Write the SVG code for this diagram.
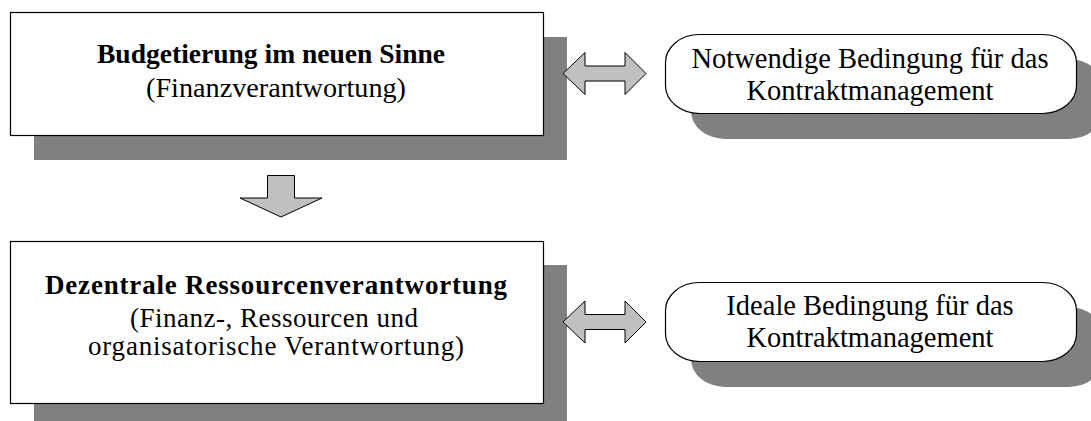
<svg xmlns="http://www.w3.org/2000/svg" width="1091" height="421" viewBox="0 0 1091 421">
  <style>
    .shadow { fill: #808080; stroke: none; }
    .box { fill: #ffffff; stroke: #000000; stroke-width: 1.2; }
    .arrow { fill: #c0c0c0; stroke: #000000; stroke-width: 1; stroke-linejoin: miter; }
    text { font-family: "Liberation Serif", "Times New Roman", serif; font-size: 27px; fill: #000000; text-anchor: middle; }
    .bold { font-weight: bold; }
    .big { font-size: 28.5px; }
  </style>
  <defs>
    <!-- horizontal double arrow, centred vertically on y=0 -->
    <path id="dbl" d="M 563 0 L 585 -21 L 585 -7.5 L 625 -7.5 L 625 -21 L 646 0 L 625 21 L 625 7.5 L 585 7.5 L 585 21 Z"/>
  </defs>

  <!-- upper rectangle -->
  <g id="node-budget">
    <rect class="shadow" x="34" y="37" width="533" height="123"/>
    <rect class="box" x="10.5" y="12.5" width="533" height="123"/>
    <text class="bold" x="271" y="63" textLength="348" lengthAdjust="spacingAndGlyphs">Budgetierung im neuen Sinne</text>
    <text x="276" y="97" textLength="260" lengthAdjust="spacingAndGlyphs">(Finanzverantwortung)</text>
  </g>

  <!-- lower rectangle -->
  <g id="node-dezentral">
    <rect class="shadow" x="34" y="265" width="533" height="160"/>
    <rect class="box" x="10.5" y="241.5" width="533" height="162"/>
    <text class="bold" x="276" y="294" textLength="462" lengthAdjust="spacing">Dezentrale Ressourcenverantwortung</text>
    <text x="274" y="327" textLength="288" lengthAdjust="spacing">(Finanz-, Ressourcen und</text>
    <text x="276" y="355" textLength="376" lengthAdjust="spacing">organisatorische Verantwortung)</text>
  </g>

  <!-- upper rounded box -->
  <g id="node-notwendig">
    <rect class="shadow" x="691" y="59" width="412" height="80" rx="34" ry="28"/>
    <rect class="box" x="665.5" y="34.5" width="411" height="79" rx="34" ry="28"/>
    <text class="big" x="870" y="68">Notwendige Bedingung für das</text>
    <text class="big" x="870" y="100">Kontraktmanagement</text>
  </g>

  <!-- lower rounded box -->
  <g id="node-ideal">
    <rect class="shadow" x="691" y="307" width="412" height="80" rx="34" ry="28"/>
    <rect class="box" x="665.5" y="282.5" width="411" height="79" rx="34" ry="28"/>
    <text class="big" x="870" y="315">Ideale Bedingung für das</text>
    <text class="big" x="870" y="347">Kontraktmanagement</text>
  </g>

  <!-- block arrows -->
  <g id="connectors">
    <use href="#dbl" class="arrow" transform="translate(0 73.5)"/>
    <use href="#dbl" class="arrow" transform="translate(0 322)"/>
    <path class="arrow" d="M 267.5 175.5 L 294.5 175.5 L 294.5 198 L 322 198 L 281 217 L 240 198 L 267.5 198 Z"/>
  </g>
</svg>
